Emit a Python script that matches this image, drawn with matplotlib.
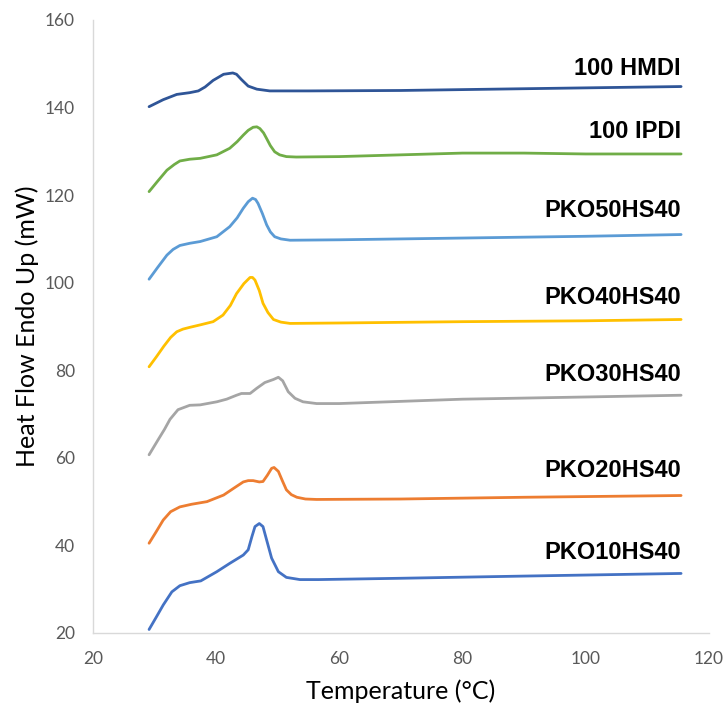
import numpy as np
import matplotlib
matplotlib.use('Agg')
import matplotlib.pyplot as plt

# Температура (°C) и тепловой поток (мВт) для каждого образца
x_hmdi = [29.1, 31.4, 33.6, 35.7, 37.1, 38.2, 39.5, 41.2, 42.7, 43.3, 44.1, 45.2, 46.6, 48.7, 55, 70, 90, 115.5]
y_hmdi = [140.2, 141.8, 143.0, 143.4, 143.8, 144.7, 146.2, 147.6, 147.9, 147.6, 146.4, 144.9, 144.2, 143.8, 143.8, 143.9, 144.3, 144.8]

x_ipdi = [29.1, 30.5, 32.0, 33.2, 34.1, 35.7, 37.4, 40.1, 42.2, 43.4, 44.4, 45.2, 46.0, 46.6, 47.1, 47.7,
          48.2, 48.8, 49.5, 50.3, 51.4, 53, 60, 70, 80, 90, 100, 115.5]
y_ipdi = [120.8, 123.2, 125.7, 127.0, 127.8, 128.2, 128.4, 129.2, 130.7, 132.2, 133.7, 134.8, 135.5, 135.6, 135.2, 134.2,
          132.9, 131.3, 129.9, 129.2, 128.8, 128.7, 128.8, 129.2, 129.6, 129.6, 129.4, 129.4]

x_pko50 = [29.1, 30.5, 32.0, 33.0, 34.1, 35.7, 37.4, 40.1, 42.2, 43.4, 44.4, 45.2, 45.9, 46.4, 46.8, 47.5,
           48.2, 48.8, 49.5, 50.5, 52.0, 60, 80, 100, 115.5]
y_pko50 = [100.8, 103.5, 106.3, 107.6, 108.5, 109.0, 109.4, 110.5, 112.8, 114.8, 117.0, 118.5, 119.3, 119.0, 118.1, 115.8,
           113.2, 111.6, 110.5, 110.0, 109.7, 109.8, 110.2, 110.6, 111.0]

x_pko40 = [29.1, 30.3, 31.5, 32.6, 33.6, 34.6, 35.7, 37.5, 39.5, 41.1, 42.3, 43.3, 44.5, 45.5, 45.9, 46.3,
           47.0, 47.6, 48.4, 49.3, 50.5, 52.0, 60, 80, 100, 115.5]
y_pko40 = [80.8, 83.1, 85.5, 87.5, 88.8, 89.4, 89.8, 90.4, 91.1, 92.6, 94.8, 97.5, 99.8, 101.2, 101.2, 100.6,
           98.2, 95.3, 93.2, 91.6, 91.0, 90.7, 90.8, 91.1, 91.3, 91.6]

x_pko30 = [29.1, 30.6, 31.6, 32.5, 33.8, 35.7, 37.4, 40.1, 41.7, 43.3, 44.1, 45.5, 46.6, 47.9, 49.3, 50.1,
           50.8, 51.7, 52.8, 54.1, 56.3, 60, 70, 80, 100, 115.5]
y_pko30 = [60.7, 64.2, 66.5, 68.8, 71.0, 72.0, 72.1, 72.8, 73.4, 74.3, 74.7, 74.7, 75.9, 77.2, 77.9, 78.4,
           77.6, 75.1, 73.6, 72.8, 72.4, 72.4, 72.9, 73.4, 73.9, 74.3]

x_pko20 = [29.1, 30.2, 31.4, 32.6, 34.1, 36.0, 38.5, 41.2, 43.0, 44.4, 45.2, 46.0, 47.0, 47.6, 48.3, 49.0,
           49.4, 50.1, 50.8, 51.4, 52.2, 53.1, 54.5, 56.3, 70, 90, 115.5]
y_pko20 = [40.5, 43.0, 45.8, 47.7, 48.8, 49.4, 50.0, 51.5, 53.2, 54.5, 54.8, 54.8, 54.5, 54.6, 56.0, 57.6,
           57.8, 56.9, 54.6, 52.7, 51.6, 51.0, 50.6, 50.5, 50.6, 51.0, 51.4]

x_pko10 = [29.1, 30.3, 31.4, 32.8, 34.1, 35.7, 37.5, 40.1, 42.2, 44.4, 45.2, 45.8, 46.3, 47.0, 47.6, 48.2,
           49.0, 50.1, 51.4, 53.6, 56.6, 70, 90, 115.5]
y_pko10 = [20.8, 23.7, 26.4, 29.4, 30.8, 31.5, 31.9, 34.0, 35.9, 37.8, 39.0, 42.0, 44.3, 45.0, 44.3, 41.2,
           37.1, 34.0, 32.7, 32.2, 32.2, 32.5, 33.0, 33.6]

names = ['100 HMDI', '100 IPDI', 'PKO50HS40', 'PKO40HS40', 'PKO30HS40', 'PKO20HS40', 'PKO10HS40']
label_y = [149.0, 134.6, 116.4, 96.7, 79.1, 57.2, 38.3]
colors = ['#2F5597', '#70AD47', '#5B9BD5', '#FFC000', '#A5A5A5', '#ED7D31', '#4472C4']

series = [(x_hmdi, y_hmdi), (x_ipdi, y_ipdi), (x_pko50, y_pko50), (x_pko40, y_pko40),
          (x_pko30, y_pko30), (x_pko20, y_pko20), (x_pko10, y_pko10)]

fig = plt.figure(figsize=(7.24, 7.06), dpi=100)
ax = fig.add_axes([0.1285, 0.1034, 0.8505, 0.8683])

for (xs, ys), c in zip(series, colors):
    ax.plot(xs, ys, color=c, lw=2.0, solid_capstyle='round', solid_joinstyle='round')

for name, ly in zip(names, label_y):
    ax.text(115.5, ly, name, ha='right', va='center', fontsize=17,
            fontweight='bold', family='Liberation Sans', color='black')

ax.set_xlim(20, 120)
ax.set_ylim(20, 160)
ax.set_xticks(np.arange(20, 121, 20))
ax.set_yticks(np.arange(20, 161, 20))
ax.tick_params(length=0, labelsize=12.5, labelcolor='#595959', pad=13)
for lab in ax.get_xticklabels() + ax.get_yticklabels():
    lab.set_family('Lato')

for s in ['top', 'right']:
    ax.spines[s].set_visible(False)
for s in ['left', 'bottom']:
    ax.spines[s].set_color('#D9D9D9')
    ax.spines[s].set_linewidth(1.0)

ax.set_xlabel('Temperature (°C)', fontsize=18, family='Lato', labelpad=9)
ax.set_ylabel('Heat Flow Endo Up (mW)', fontsize=18, family='Lato', labelpad=4)

fig.savefig('out.png', dpi=100)
